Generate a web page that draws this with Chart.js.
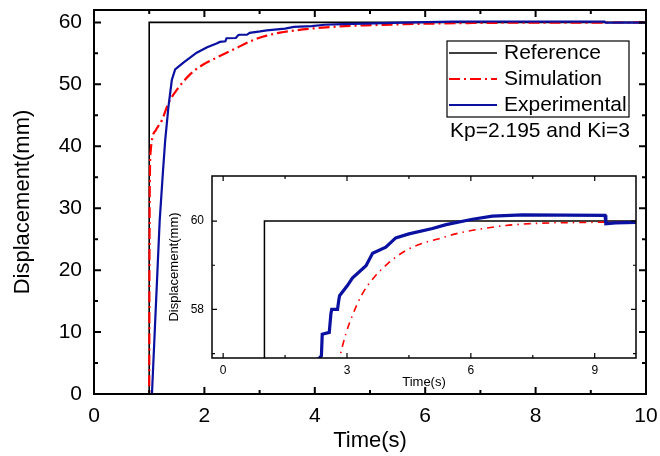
<!DOCTYPE html>
<html>
<head>
<meta charset="utf-8">
<script src="https://cdn.jsdelivr.net/npm/chart.js@4.4.1/dist/chart.umd.min.js"></script>
<style>
  html, body { margin: 0; padding: 0; background: #fff; }
  #wrap { position: relative; width: 660px; height: 456px; }
  #mainChart { position: absolute; left: 0; top: 0; }
  #insetChart { position: absolute; left: 150px; top: 160px; }
</style>
</head>
<body>
<div id="wrap">
  <canvas id="mainChart" width="660" height="456"></canvas>
  <canvas id="insetChart" width="500" height="245"></canvas>
</div>
<script>
// values (time in s, displacement in mm)
const refTime = [0, 1, 1, 10];
const refDisp = [0, 0, 60, 60];

const simTime = [0, 1.0, 1.004, 1.012, 1.03, 1.06, 1.12, 1.23, 1.35, 1.5, 1.74, 1.98, 2.22, 2.59, 2.82, 2.97,
    3.13, 3.37, 3.66, 3.98, 4.42, 4.91, 5.23, 5.63, 6.04, 6.85, 7.65, 8.86, 10];
const simDisp = [0, 0, 20, 35, 39.5, 41.5, 42.6, 44.2, 47.0, 49.1, 51.6, 53.2, 54.3, 55.9, 56.9, 57.44,
    57.86, 58.35, 58.73, 59.03, 59.33, 59.52, 59.6, 59.71, 59.79, 59.9, 59.95, 59.97, 59.99];

const expTime = [0, 1.05, 1.10, 1.15, 1.19, 1.25, 1.29, 1.35, 1.41, 1.47, 1.62, 1.86, 2.05, 2.22, 2.28, 2.38,
    2.40, 2.57, 2.61, 2.63, 2.77, 2.80, 2.82, 3.01, 3.13, 3.46, 3.62, 3.94, 4.18, 4.5, 5.07, 5.4, 6.04, 6.52,
    7.25, 9.25, 9.27, 9.51, 10];
const expDisp = [0, 0, 10, 20, 28, 36, 41, 46.5, 50.7, 52.4, 53.5, 55.1, 56.0, 56.6, 56.85, 56.95,
    57.44, 57.48, 57.9, 58.0, 58.0, 58.2, 58.31, 58.54, 58.71, 58.99, 59.27, 59.41, 59.62, 59.71, 59.83, 59.92, 60.04, 60.11,
    60.14, 60.13, 59.94, 59.96, 59.97];

const mainXTicks = [0, 2, 4, 6, 8, 10];
const mainYTicks = [0, 10, 20, 30, 40, 50, 60];
const insetXTicks = [0, 3, 6, 9];
const insetYTicks = [58, 60];

const FONT = "'Liberation Sans', Arial, sans-serif";
const BLUE = "#0a10a0";
const RED = "#ff0000";

function pts(xs, ys) {
    return xs.map((t, i) => ({ x: t, y: ys[i] }));
}

// Origin-style frame: full box with inward ticks on all four sides
const originAxes = {
    id: "originAxes",
    afterDatasetsDraw(chart, args, opts) {
        const { ctx, chartArea: a } = chart;
        const sx = chart.scales.x, sy = chart.scales.y;
        ctx.save();
        ctx.strokeStyle = "#000";
        ctx.lineWidth = opts.boxWidth;
        ctx.strokeRect(a.left, a.top, a.right - a.left, a.bottom - a.top);
        ctx.lineWidth = opts.tickWidth;
        ctx.beginPath();
        const xt = (vals, len) => vals.forEach(v => {
            const p = sx.getPixelForValue(v);
            ctx.moveTo(p, a.bottom); ctx.lineTo(p, a.bottom - len);
            ctx.moveTo(p, a.top); ctx.lineTo(p, a.top + len);
        });
        const yt = (vals, len) => vals.forEach(v => {
            const p = sy.getPixelForValue(v);
            ctx.moveTo(a.left, p); ctx.lineTo(a.left + len, p);
            ctx.moveTo(a.right, p); ctx.lineTo(a.right - len, p);
        });
        xt(opts.xMajor, opts.major);
        xt(opts.xMinor, opts.minor);
        yt(opts.yMajor, opts.major);
        yt(opts.yMinor, opts.minor);
        ctx.stroke();
        ctx.restore();
    }
};

// boxed legend + gain note, in the upper right of the main plot
const boxLegend = {
    id: "boxLegend",
    afterDraw(chart, args, opts) {
        if (!opts.show) return;
        const ctx = chart.ctx;
        ctx.save();
        ctx.strokeStyle = "#000";
        ctx.lineWidth = 1.2;
        ctx.strokeRect(447, 41, 182, 76);
        ctx.font = "21px " + FONT;
        ctx.textBaseline = "middle";
        ctx.fillStyle = "#000";
        chart.data.datasets.forEach((ds, i) => {
            const yy = 53 + i * 26;
            ctx.strokeStyle = ds.borderColor;
            ctx.lineWidth = ds.borderWidth;
            ctx.setLineDash(ds.borderDash || []);
            ctx.beginPath();
            ctx.moveTo(449, yy);
            ctx.lineTo(497, yy);
            ctx.stroke();
            ctx.setLineDash([]);
            ctx.fillText(ds.label, 504, yy);
        });
        ctx.fillText("Kp=2.195 and Ki=3", 450, 131);
        ctx.restore();
    }
};

function makeChart(canvasId, cfg) {
    return new Chart(document.getElementById(canvasId), {
        type: "line",
        data: {
            datasets: [
                { label: "Reference", data: pts(refTime, refDisp), borderColor: "#000",
                  borderWidth: cfg.refW, order: 3, clip: cfg.clip },
                { label: "Simulation", data: pts(simTime, simDisp), borderColor: RED,
                  borderWidth: cfg.simW, borderDash: cfg.simDash, cubicInterpolationMode: "monotone",
                  order: 2, clip: cfg.clip },
                { label: "Experimental", data: pts(expTime, expDisp), borderColor: BLUE,
                  borderWidth: cfg.expW, order: 1, clip: cfg.clip }
            ]
        },
        options: {
            responsive: false,
            animation: false,
            elements: { point: { radius: 0 }, line: { tension: 0 } },
            layout: { padding: cfg.padding },
            plugins: {
                legend: { display: false },
                tooltip: { enabled: false },
                originAxes: cfg.frame,
                boxLegend: { show: cfg.legend }
            },
            scales: {
                x: {
                    type: "linear", min: cfg.xMin, max: cfg.xMax,
                    afterBuildTicks: s => { s.ticks = cfg.xTicks.map(v => ({ value: v })); },
                    afterFit: s => { s.height = cfg.xHeight; s.paddingLeft = 0; s.paddingRight = 0; },
                    grid: { display: false, drawTicks: false },
                    border: { display: false },
                    ticks: { color: "#000", font: { family: FONT, size: cfg.tickSize }, padding: cfg.xPad, maxRotation: 0 },
                    title: { display: true, text: "Time(s)", color: "#000",
                             font: { family: FONT, size: cfg.titleSize }, padding: { top: 0, bottom: cfg.xTitlePad } }
                },
                y: {
                    type: "linear", min: cfg.yMin, max: cfg.yMax,
                    afterBuildTicks: s => { s.ticks = cfg.yTicks.map(v => ({ value: v })); },
                    afterFit: s => { s.width = cfg.yWidth; s.paddingTop = 0; s.paddingBottom = 0; },
                    grid: { display: false, drawTicks: false },
                    border: { display: false },
                    ticks: { color: "#000", font: { family: FONT, size: cfg.tickSize }, padding: cfg.yPad },
                    title: { display: true, text: "Displacement(mm)", color: "#000",
                             font: { family: FONT, size: cfg.titleSize }, padding: { top: cfg.yTitlePad, bottom: 0 } }
                }
            }
        },
        plugins: [originAxes, boxLegend]
    });
}

makeChart("mainChart", {
    refW: 1.6, simW: 2.2, simDash: [11, 4, 2, 4], expW: 2.2, clip: undefined,
    padding: { left: 0, right: 14, top: 10, bottom: 0 },
    xMin: 0, xMax: 10, yMin: 0, yMax: 62,
    xTicks: mainXTicks, yTicks: mainYTicks,
    xHeight: 62, yWidth: 94, tickSize: 21, titleSize: 22,
    xPad: 10, yPad: 12, xTitlePad: 2, yTitlePad: 10,
    legend: true,
    frame: { boxWidth: 2, tickWidth: 2, major: 7, minor: 4,
             xMajor: mainXTicks, xMinor: [1, 3, 5, 7, 9],
             yMajor: mainYTicks, yMinor: [5, 15, 25, 35, 45, 55] }
});

makeChart("insetChart", {
    refW: 1.5, simW: 1.6, simDash: [7, 5, 1.5, 5], expW: 3.2, clip: 0,
    padding: { left: 0, right: 14, top: 16, bottom: 0 },
    xMin: -0.27, xMax: 10, yMin: 56.9, yMax: 61.02,
    xTicks: insetXTicks, yTicks: insetYTicks,
    xHeight: 47, yWidth: 62, tickSize: 12, titleSize: 13,
    xPad: 5, yPad: 8, xTitlePad: 15, yTitlePad: 17,
    legend: false,
    frame: { boxWidth: 1.5, tickWidth: 1.2, major: 5, minor: 3,
             xMajor: insetXTicks, xMinor: [1.5, 4.5, 7.5],
             yMajor: insetYTicks, yMinor: [57, 59] }
});
</script>
</body>
</html>
